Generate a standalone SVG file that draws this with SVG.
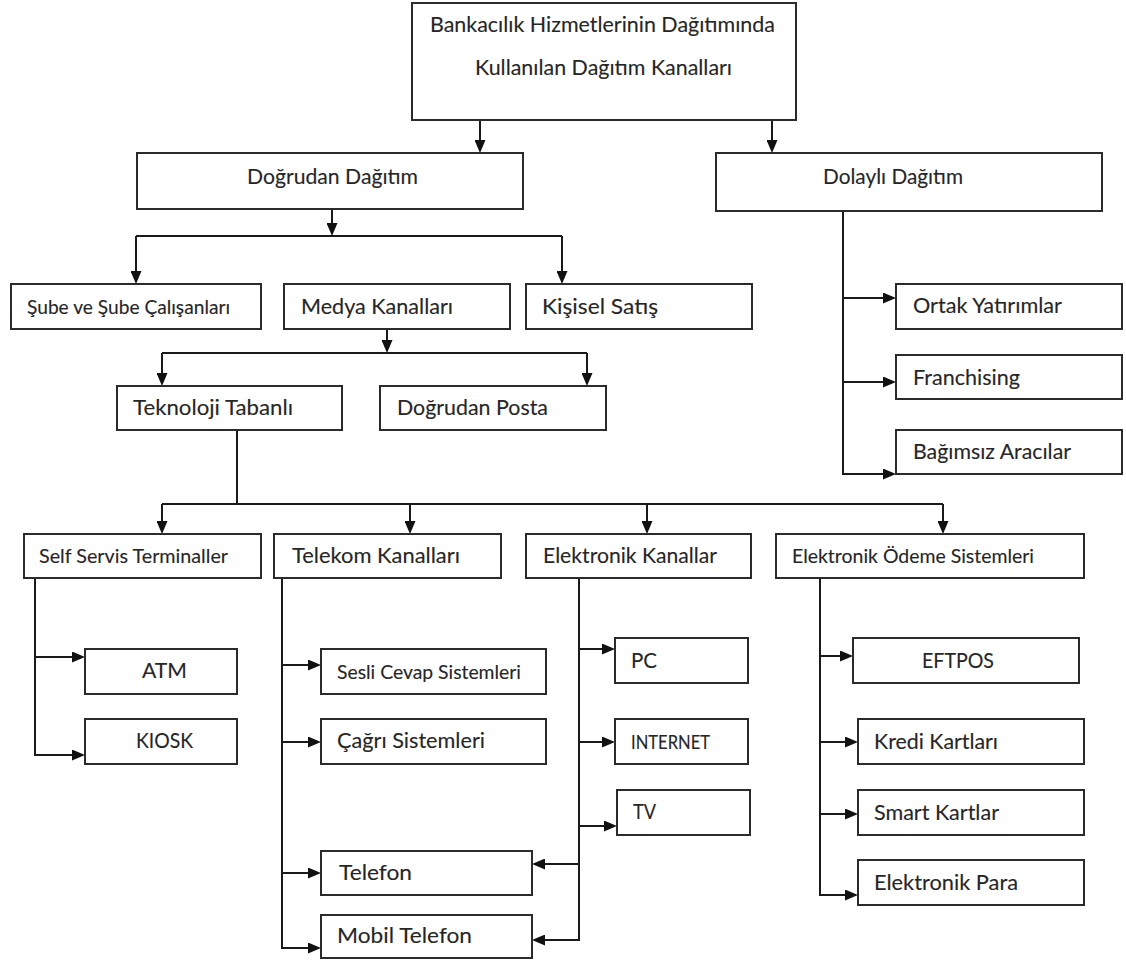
<svg xmlns="http://www.w3.org/2000/svg" width="1126" height="960" viewBox="0 0 1126 960">
  <defs>
    <style>
      .box { fill: #ffffff; stroke: #2b2b2b; stroke-width: 2; }
      .lbl { font-family: Lato, "Liberation Sans", sans-serif; font-size: 22px; fill: #262626; stroke: #262626; stroke-width: 0.12; }
      .sm { font-size: 19px; }
      .wire { fill: none; stroke: #1a1a1a; stroke-width: 2; stroke-linecap: butt; stroke-linejoin: miter; }
      .arr { marker-end: url(#head); }
    </style>
    <marker id="head" viewBox="0 0 13 11" refX="6" refY="5.5" markerWidth="13" markerHeight="11" markerUnits="userSpaceOnUse" orient="auto">
      <path d="M0,0 L13,5.5 L0,11 z" fill="#111111"/>
    </marker>
  </defs>
  <rect width="1126" height="960" fill="#ffffff"/>

  <!-- connectors -->
  <g id="connectors">
    <path class="wire arr" d="M480,120 V146"/>
    <path class="wire arr" d="M772,120 V146"/>

    <path class="wire arr" d="M332,209 V229"/>
    <path class="wire" d="M136,236 H562"/>
    <path class="wire arr" d="M136,236 V277"/>
    <path class="wire arr" d="M562,236 V277"/>

    <path class="wire arr" d="M387,329 V346"/>
    <path class="wire" d="M162,353 H587"/>
    <path class="wire arr" d="M162,353 V379"/>
    <path class="wire arr" d="M587,353 V379"/>

    <path class="wire" d="M237,430 V504"/>
    <path class="wire" d="M162,504 H943"/>
    <path class="wire arr" d="M162,504 V527"/>
    <path class="wire arr" d="M410,504 V527"/>
    <path class="wire arr" d="M647,504 V527"/>
    <path class="wire arr" d="M943,504 V527"/>

    <path class="wire arr" d="M35,578 V755 H78"/>
    <path class="wire arr" d="M35,657 H78"/>

    <path class="wire arr" d="M282,578 V948 H314"/>
    <path class="wire arr" d="M282,665 H314"/>
    <path class="wire arr" d="M282,742 H314"/>
    <path class="wire arr" d="M282,873 H314"/>

    <path class="wire arr" d="M579,578 V940 H539"/>
    <path class="wire arr" d="M579,864 H539"/>
    <path class="wire arr" d="M579,649 H608"/>
    <path class="wire arr" d="M579,742 H608"/>
    <path class="wire arr" d="M579,826 H610"/>

    <path class="wire arr" d="M820,578 V895 H851"/>
    <path class="wire arr" d="M820,656 H846"/>
    <path class="wire arr" d="M820,742 H851"/>
    <path class="wire arr" d="M820,814 H851"/>

    <path class="wire arr" d="M843,211 V474 H889"/>
    <path class="wire arr" d="M843,298 H889"/>
    <path class="wire arr" d="M843,382 H889"/>
  </g>

  <!-- nodes -->
  <g id="root">
    <rect class="box" x="412" y="3" width="384" height="117"/>
    <text class="lbl" x="430" y="32" textLength="345" lengthAdjust="spacingAndGlyphs">Bankacılık Hizmetlerinin Dağıtımında</text>
    <text class="lbl" x="475" y="75" textLength="257" lengthAdjust="spacingAndGlyphs">Kullanılan Dağıtım Kanalları</text>
  </g>
  <g id="dogrudan-dagitim">
    <rect class="box" x="137" y="153" width="386" height="56"/>
    <text class="lbl" x="247" y="184" textLength="171" lengthAdjust="spacingAndGlyphs">Doğrudan Dağıtım</text>
  </g>
  <g id="dolayli-dagitim">
    <rect class="box" x="716" y="153" width="386" height="58"/>
    <text class="lbl" x="823" y="184" textLength="140" lengthAdjust="spacingAndGlyphs">Dolaylı Dağıtım</text>
  </g>
  <g id="sube">
    <rect class="box" x="11" y="284" width="250" height="45"/>
    <text class="lbl sm" x="27" y="314" textLength="203" lengthAdjust="spacingAndGlyphs">Şube ve Şube Çalışanları</text>
  </g>
  <g id="medya">
    <rect class="box" x="284" y="284" width="226" height="45"/>
    <text class="lbl" x="301" y="314" textLength="152" lengthAdjust="spacingAndGlyphs">Medya Kanalları</text>
  </g>
  <g id="kisisel-satis">
    <rect class="box" x="526" y="284" width="226" height="45"/>
    <text class="lbl" x="542" y="314" textLength="116" lengthAdjust="spacingAndGlyphs">Kişisel Satış</text>
  </g>
  <g id="ortak-yatirimlar">
    <rect class="box" x="896" y="284" width="226" height="45"/>
    <text class="lbl" x="913" y="313" textLength="149" lengthAdjust="spacingAndGlyphs">Ortak Yatırımlar</text>
  </g>
  <g id="franchising">
    <rect class="box" x="896" y="355" width="226" height="44"/>
    <text class="lbl" x="913" y="385" textLength="107" lengthAdjust="spacingAndGlyphs">Franchising</text>
  </g>
  <g id="bagimsiz-aracilar">
    <rect class="box" x="896" y="430" width="226" height="44"/>
    <text class="lbl" x="913" y="459" textLength="158" lengthAdjust="spacingAndGlyphs">Bağımsız Aracılar</text>
  </g>
  <g id="teknoloji">
    <rect class="box" x="117" y="386" width="225" height="44"/>
    <text class="lbl" x="133" y="415" textLength="160" lengthAdjust="spacingAndGlyphs">Teknoloji Tabanlı</text>
  </g>
  <g id="dogrudan-posta">
    <rect class="box" x="380" y="386" width="226" height="44"/>
    <text class="lbl" x="397" y="415" textLength="151" lengthAdjust="spacingAndGlyphs">Doğrudan Posta</text>
  </g>
  <g id="self-servis">
    <rect class="box" x="24" y="534" width="237" height="44"/>
    <text class="lbl sm" x="39" y="563" textLength="189" lengthAdjust="spacingAndGlyphs">Self Servis Terminaller</text>
  </g>
  <g id="telekom">
    <rect class="box" x="274" y="534" width="227" height="44"/>
    <text class="lbl" x="292" y="563" textLength="168" lengthAdjust="spacingAndGlyphs">Telekom Kanalları</text>
  </g>
  <g id="elektronik-kanallar">
    <rect class="box" x="526" y="534" width="225" height="44"/>
    <text class="lbl" x="543" y="563" textLength="174" lengthAdjust="spacingAndGlyphs">Elektronik Kanallar</text>
  </g>
  <g id="elektronik-odeme">
    <rect class="box" x="776" y="534" width="308" height="44"/>
    <text class="lbl sm" x="792" y="563" textLength="242" lengthAdjust="spacingAndGlyphs">Elektronik Ödeme Sistemleri</text>
  </g>
  <g id="atm">
    <rect class="box" x="85" y="649" width="152" height="45"/>
    <text class="lbl" x="142" y="678" textLength="45" lengthAdjust="spacingAndGlyphs">ATM</text>
  </g>
  <g id="kiosk">
    <rect class="box" x="85" y="719" width="152" height="45"/>
    <text class="lbl" x="136" y="748" textLength="57" lengthAdjust="spacingAndGlyphs">KIOSK</text>
  </g>
  <g id="sesli-cevap">
    <rect class="box" x="321" y="649" width="225" height="45"/>
    <text class="lbl sm" x="337" y="679" textLength="184" lengthAdjust="spacingAndGlyphs">Sesli Cevap Sistemleri</text>
  </g>
  <g id="cagri">
    <rect class="box" x="321" y="719" width="225" height="45"/>
    <text class="lbl" x="337" y="748" textLength="148" lengthAdjust="spacingAndGlyphs">Çağrı Sistemleri</text>
  </g>
  <g id="telefon">
    <rect class="box" x="321" y="851" width="211" height="44"/>
    <text class="lbl" x="339" y="880" textLength="73" lengthAdjust="spacingAndGlyphs">Telefon</text>
  </g>
  <g id="mobil-telefon">
    <rect class="box" x="321" y="915" width="211" height="43"/>
    <text class="lbl" x="337" y="943" textLength="135" lengthAdjust="spacingAndGlyphs">Mobil Telefon</text>
  </g>
  <g id="pc">
    <rect class="box" x="615" y="638" width="133" height="45"/>
    <text class="lbl" x="631" y="668" textLength="26" lengthAdjust="spacingAndGlyphs">PC</text>
  </g>
  <g id="internet">
    <rect class="box" x="615" y="719" width="133" height="45"/>
    <text class="lbl sm" x="631" y="749" textLength="79" lengthAdjust="spacingAndGlyphs">INTERNET</text>
  </g>
  <g id="tv">
    <rect class="box" x="617" y="790" width="133" height="45"/>
    <text class="lbl" x="633" y="819" textLength="23" lengthAdjust="spacingAndGlyphs">TV</text>
  </g>
  <g id="eftpos">
    <rect class="box" x="853" y="638" width="226" height="45"/>
    <text class="lbl" x="922" y="668" textLength="72" lengthAdjust="spacingAndGlyphs">EFTPOS</text>
  </g>
  <g id="kredi-kartlari">
    <rect class="box" x="858" y="719" width="226" height="45"/>
    <text class="lbl" x="874" y="749" textLength="124" lengthAdjust="spacingAndGlyphs">Kredi Kartları</text>
  </g>
  <g id="smart-kartlar">
    <rect class="box" x="858" y="790" width="226" height="45"/>
    <text class="lbl" x="874" y="820" textLength="125" lengthAdjust="spacingAndGlyphs">Smart Kartlar</text>
  </g>
  <g id="elektronik-para">
    <rect class="box" x="858" y="860" width="226" height="45"/>
    <text class="lbl" x="874" y="890" textLength="144" lengthAdjust="spacingAndGlyphs">Elektronik Para</text>
  </g>
</svg>
